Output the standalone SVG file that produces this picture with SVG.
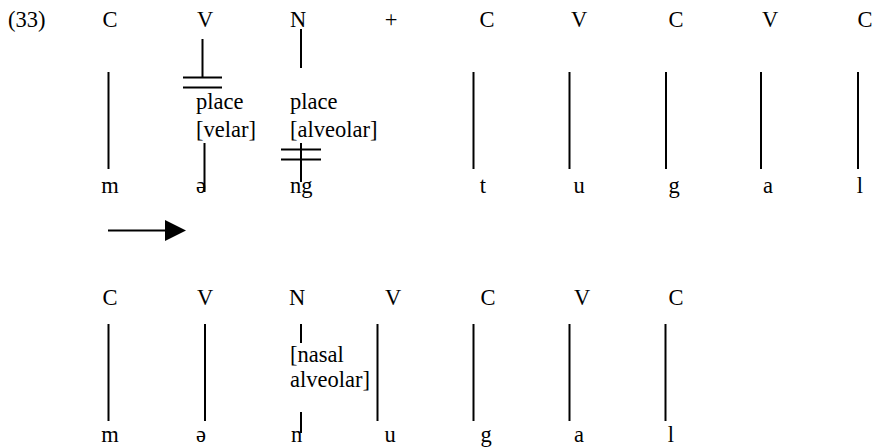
<svg xmlns="http://www.w3.org/2000/svg" width="873" height="447" viewBox="0 0 873 447">
<style>
text{font-family:'Liberation Serif','Times New Roman',Times,serif;font-size:22.5px;fill:#000}
.c{text-anchor:middle}
line{stroke:#000;stroke-width:2}
</style>
<rect width="873" height="447" fill="#fff"/>
<g id="label"><text x="8" y="27">(33)</text></g>
<g id="row1-top">
<text class="c" x="110" y="27">C</text>
<text class="c" x="205" y="27">V</text>
<text class="c" x="298" y="27">N</text>
<text class="c" x="391" y="27">+</text>
<text class="c" x="487" y="27">C</text>
<text class="c" x="579" y="27">V</text>
<text class="c" x="676" y="27">C</text>
<text class="c" x="770" y="27">V</text>
<text class="c" x="865" y="27">C</text>
</g>
<g id="row1-features">
<text x="196" y="109">place</text>
<text x="196" y="137">[velar]</text>
<text x="290" y="109">place</text>
<text x="290" y="137">[alveolar]</text>
</g>
<g id="row1-bottom">
<text class="c" x="110" y="193">m</text>
<text class="c" x="201" y="193">ə</text>
<text x="290" y="193">ng</text>
<text class="c" x="483" y="193">t</text>
<text class="c" x="579" y="193">u</text>
<text class="c" x="674" y="193">g</text>
<text class="c" x="768" y="193">a</text>
<text class="c" x="860" y="193">l</text>
</g>
<g id="arrow">
<line x1="108" y1="230.5" x2="166" y2="230.5"/>
<polygon points="165,220 186,230.5 165,241" fill="#000"/>
</g>
<g id="row2-top">
<text class="c" x="110" y="305">C</text>
<text class="c" x="205" y="305">V</text>
<text class="c" x="297" y="305">N</text>
<text class="c" x="393" y="305">V</text>
<text class="c" x="488" y="305">C</text>
<text class="c" x="582" y="305">V</text>
<text class="c" x="676" y="305">C</text>
</g>
<g id="row2-features">
<text x="290" y="362">[nasal</text>
<text x="290" y="387">alveolar]</text>
</g>
<g id="row2-bottom">
<text class="c" x="110" y="442">m</text>
<text class="c" x="201" y="442">ə</text>
<text x="291" y="442">n</text>
<text class="c" x="390" y="442">u</text>
<text class="c" x="486" y="442">g</text>
<text class="c" x="579" y="442">a</text>
<text class="c" x="671" y="442">l</text>
</g>
<g id="connectors">
<line x1="108.5" y1="72" x2="108.5" y2="169"/>
<line x1="202.5" y1="39" x2="202.5" y2="77"/>
<line x1="183" y1="77.5" x2="222" y2="77.5"/>
<line x1="183" y1="87.5" x2="222" y2="87.5"/>
<line x1="204.5" y1="143" x2="204.5" y2="192"/>
<line x1="301" y1="29" x2="301" y2="68"/>
<line x1="301" y1="143" x2="301" y2="182"/>
<line x1="281" y1="149.5" x2="321" y2="149.5"/>
<line x1="281" y1="159.5" x2="321" y2="159.5"/>
<line x1="473.5" y1="72" x2="473.5" y2="169"/>
<line x1="569.5" y1="72" x2="569.5" y2="169"/>
<line x1="666" y1="72" x2="666" y2="169"/>
<line x1="761" y1="72" x2="761" y2="169"/>
<line x1="858" y1="72" x2="858" y2="169"/>
<line x1="108.5" y1="324" x2="108.5" y2="421"/>
<line x1="205" y1="324" x2="205" y2="421"/>
<line x1="301" y1="324" x2="301" y2="343"/>
<line x1="301" y1="412" x2="301" y2="433"/>
<line x1="377.5" y1="324" x2="377.5" y2="421"/>
<line x1="473.5" y1="324" x2="473.5" y2="421"/>
<line x1="569.5" y1="324" x2="569.5" y2="421"/>
<line x1="665.5" y1="324" x2="665.5" y2="421"/>
</g>
</svg>
